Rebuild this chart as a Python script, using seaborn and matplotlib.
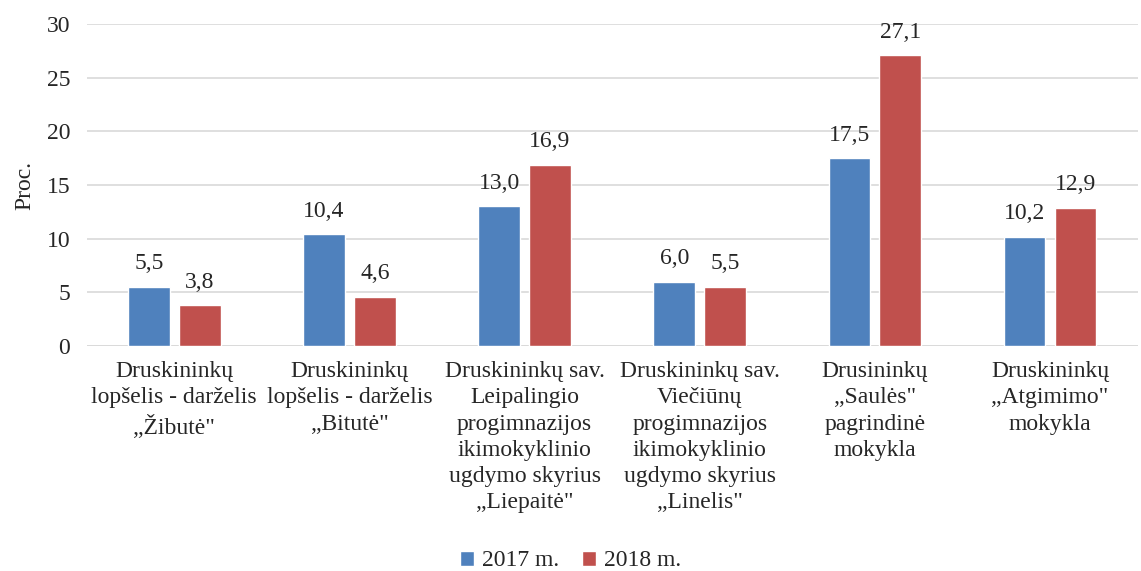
import pandas as pd
import seaborn as sns
import matplotlib.pyplot as plt

categories = [
    "Druskininkų\nlopšelis - darželis\n„Žibutė\"",
    "Druskininkų\nlopšelis - darželis\n„Bitutė\"",
    "Druskininkų sav.\nLeipalingio\nprogimnazijos\nikimokyklinio\nugdymo skyrius\n„Liepaitė\"",
    "Druskininkų sav.\nViečiūnų\nprogimnazijos\nikimokyklinio\nugdymo skyrius\n„Linelis\"",
    "Drusininkų\n„Saulės\"\npagrindinė\nmokykla",
    "Druskininkų\n„Atgimimo\"\nmokykla",
]
v2017 = [5.5, 10.4, 13.0, 6.0, 17.5, 10.2]
v2018 = [3.8, 4.6, 16.9, 5.5, 27.1, 12.9]
years = ["2017 m.", "2018 m."]

df = pd.DataFrame({
    "cat": categories * 2,
    "val": v2017 + v2018,
    "year": [years[0]] * 6 + [years[1]] * 6,
})

sns.set_style("whitegrid")
plt.rcParams["font.family"] = ["Liberation Serif", "DejaVu Serif"]
fs = 17

fig = plt.figure(figsize=(11.41, 5.71), dpi=100)
ax = fig.add_axes([0.076, 0.394, 0.921, 0.564])
sns.barplot(data=df, x="cat", y="val", hue="year", palette=["#4F81BD", "#C0504D"],
            saturation=1, width=0.58, gap=0.18, ax=ax, legend=True)

ax.set_ylim(0, 30)
ax.set_yticks(range(0, 31, 5))
ax.set_ylabel("Proc.", fontsize=17, labelpad=8)
ax.set_xlabel("")
ax.grid(axis="y", color="#D9D9D9", linewidth=1.2)
ax.grid(axis="x", visible=False)
for s in ["left", "right", "top", "bottom"]:
    ax.spines[s].set_visible(False)
ax.axhline(0, color="#D9D9D9", linewidth=1.2, zorder=0)
ax.tick_params(axis="both", length=0, labelsize=fs)
ax.tick_params(axis="y", pad=12)
ax.tick_params(axis="x", pad=11)
for t in ax.get_xticklabels():
    t.set_linespacing(1.32)

for cont in ax.containers:
    ax.bar_label(cont, labels=[f"{b.get_height():.1f}".replace(".", ",") for b in cont],
                 padding=9, fontsize=fs)

h, l = ax.get_legend_handles_labels()
ax.get_legend().remove()
fig.legend(h, l, loc="lower center", bbox_to_anchor=(0.5, -0.038), ncol=2, frameon=False,
           handlelength=0.6, handleheight=0.6, handletextpad=0.3, columnspacing=1.0, fontsize=fs)

fig.savefig("out.png", dpi=100)
